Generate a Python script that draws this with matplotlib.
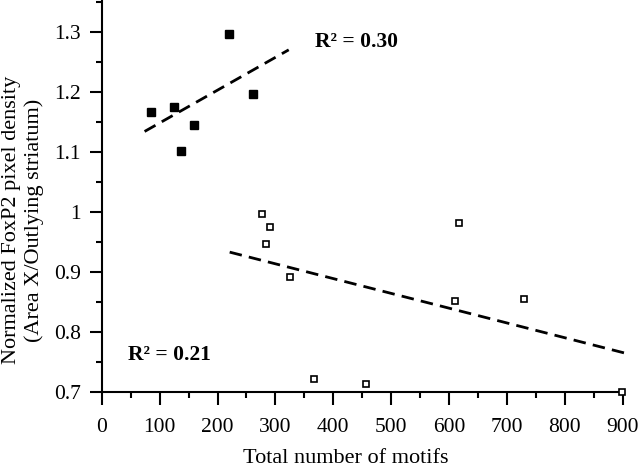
import matplotlib.pyplot as plt
from matplotlib.ticker import MultipleLocator, FuncFormatter

plt.rcParams['font.family'] = ['Liberation Serif', 'DejaVu Serif']

# filled squares (upper group)
motifs_a = [85, 125, 137, 160, 219, 261]
density_a = [1.167, 1.174, 1.102, 1.145, 1.297, 1.196]
fit_a_x = [74, 323]
fit_a_y = [1.134, 1.270]

# open squares (lower group)
motifs_b = [276, 291, 283, 325, 366, 456, 618, 610, 730, 899]
density_b = [0.996, 0.975, 0.946, 0.891, 0.721, 0.713, 0.982, 0.851, 0.855, 0.700]
fit_b_x = [221, 903]
fit_b_y = [0.933, 0.765]

fig = plt.figure(figsize=(6.4, 4.67), dpi=100)
ax = fig.add_axes([0.159, 0.1606, 0.814, 0.8394])

ax.plot(motifs_a, density_a, 's', color='black', markersize=6, clip_on=False)
ax.plot(motifs_b, density_b, 's', markerfacecolor='white', markeredgecolor='black',
        markersize=4.5, markeredgewidth=1.2, clip_on=False, zorder=5)
ax.plot(fit_a_x, fit_a_y, '--', color='black', linewidth=2.0, dashes=(4.5, 2.6), clip_on=False)
ax.plot(fit_b_x, fit_b_y, '--', color='black', linewidth=2.0, dashes=(4.5, 2.6), clip_on=False)

ax.text(368, 1.283, 'R\u00b2 = 0.30', fontsize=15.5, fontweight='bold', ha='left', va='center')
ax.text(45, 0.762, 'R\u00b2 = 0.21', fontsize=15.5, fontweight='bold', ha='left', va='center')

ax.set_xlim(0, 900)
ax.set_ylim(0.7, 1.353)
ax.xaxis.set_major_locator(MultipleLocator(100))
ax.xaxis.set_minor_locator(MultipleLocator(50))
ax.yaxis.set_major_locator(MultipleLocator(0.1))
ax.yaxis.set_minor_locator(MultipleLocator(0.05))
ax.yaxis.set_major_formatter(FuncFormatter(lambda v, p: '1' if abs(v - 1) < 1e-9 else f'{v:.1f}'))

ax.tick_params(which='major', direction='out', length=9, width=1.5, labelsize=15.5, pad=6)
ax.tick_params(axis='x', which='major', pad=10)
ax.tick_params(which='minor', direction='out', length=4, width=1.5)
for s in ['top', 'right']:
    ax.spines[s].set_visible(False)
for s in ['left', 'bottom']:
    ax.spines[s].set_linewidth(1.5)

ax.set_xlabel('Total number of motifs', fontsize=16)
ax.set_ylabel('Normalized FoxP2 pixel density\n(Area X/Outlying striatum)', fontsize=16)
ax.xaxis.set_label_coords(0.468, -0.145)
ax.yaxis.set_label_coords(-0.111, 0.439)

fig.savefig('out.png', dpi=100)
